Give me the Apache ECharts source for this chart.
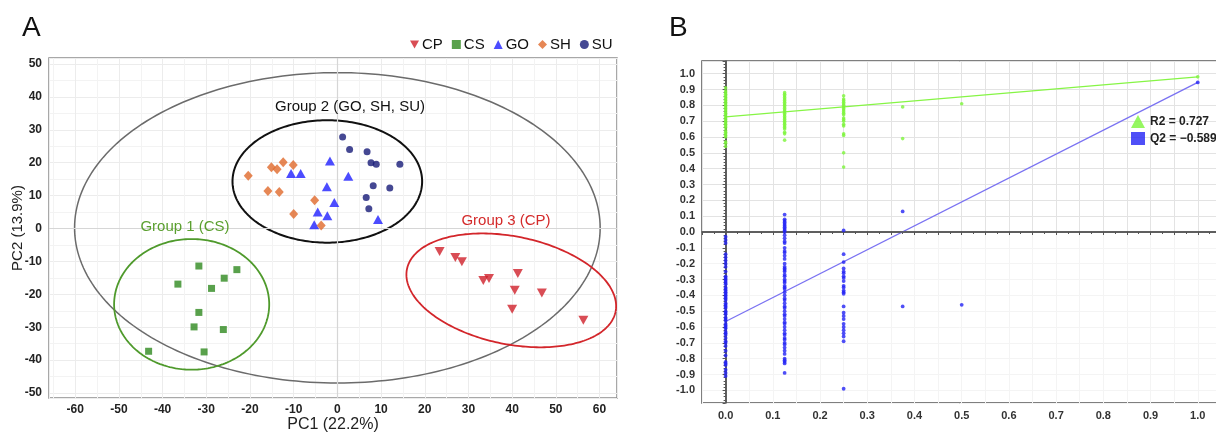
<!DOCTYPE html>
<html><head><meta charset="utf-8">
<script src="https://cdn.jsdelivr.net/npm/echarts@6/dist/echarts.min.js"></script>
<style>html,body{margin:0;padding:0;background:#fff}#c{width:1216px;height:433px}</style>
</head><body><div id="c"></div>
<script>
// ---------- Panel A: PCA scores ----------
const groupNames = ['CP', 'CS', 'GO', 'SH', 'SU'];
const cpPoints = [[23.4,-7.0],[27.0,-8.8],[28.5,-10.1],[33.4,-15.8],[34.7,-15.2],[41.3,-13.7],[40.6,-18.8],[46.8,-19.6],[40.0,-24.5],[56.3,-27.9]];
const csPoints = [[-31.7,-11.4],[-23.0,-12.5],[-36.5,-16.9],[-25.9,-15.1],[-28.8,-18.2],[-31.7,-25.5],[-32.8,-29.9],[-26.1,-30.7],[-43.2,-37.3],[-30.5,-37.5]];
const goPoints = [[-1.7,20.5],[-10.6,16.7],[-8.4,16.7],[2.5,15.9],[-2.4,12.7],[-0.7,7.9],[-4.5,5.0],[-2.3,3.9],[-5.3,1.1],[9.3,2.7]];
const shPoints = [[-20.4,16.0],[-15.1,18.6],[-13.8,18.0],[-12.4,20.1],[-10.1,19.3],[-15.9,11.4],[-13.3,11.1],[-5.2,8.6],[-10.0,4.4],[-3.7,0.9]];
const suPoints = [[1.2,27.8],[2.8,24.0],[6.8,23.3],[7.7,20.0],[8.9,19.5],[14.3,19.5],[8.2,13.0],[12.0,12.3],[6.6,9.4],[7.2,6.0]];
const groupLabels = ['Group 2 (GO, SH, SU)', 'Group 1 (CS)', 'Group 3 (CP)'];
// ellipses: centre and two conjugate semi-axis vectors (data units)
const ellipseCenter = [[0,0.2],[-2.3,14.3],[-33.35,-23.05],[39.8,-18.8]];
const ellipseU = [[60.15,0],[21.7,0],[17.75,0],[23.37,-8.44]];
const ellipseV = [[0,47.15],[0,18.6],[0,19.85],[5.45,15.1]];
const axisNameA = ['PC1 (22.2%)', 'PC2 (13.9%)'];

// ---------- Panel B: permutation test ----------
const permX = [0, 0.125, 0.25, 0.375, 0.5, 1.0];
const r2Cols = [
  [0.91,0.89,0.88,0.87,0.86,0.85,0.84,0.83,0.82,0.81,0.80,0.79,0.78,0.77,0.76,0.75,0.74,0.73,0.72,0.71,0.70,0.69,0.68,0.67,0.66,0.64,0.63,0.62,0.61,0.60,0.57,0.56,0.54],
  [0.88,0.87,0.86,0.85,0.84,0.83,0.82,0.81,0.80,0.79,0.78,0.77,0.76,0.75,0.74,0.73,0.72,0.71,0.70,0.69,0.68,0.67,0.66,0.65,0.63,0.62,0.58],
  [0.86,0.84,0.83,0.82,0.81,0.80,0.79,0.78,0.77,0.76,0.75,0.74,0.72,0.71,0.70,0.68,0.67,0.62,0.61,0.50,0.41],
  [0.79,0.59],
  [0.81],
  [0.98]
];
const q2Cols = [
  [-0.03,-0.05,-0.07,-0.14,-0.16,-0.18,-0.20,-0.22,-0.25,-0.28,-0.29,-0.30,-0.31,-0.32,-0.33,-0.35,-0.36,-0.37,-0.38,-0.39,-0.40,-0.41,-0.42,-0.43,-0.45,-0.46,-0.47,-0.48,-0.50,-0.51,-0.52,-0.54,-0.55,-0.56,-0.58,-0.59,-0.60,-0.61,-0.63,-0.64,-0.65,-0.67,-0.69,-0.70,-0.72,-0.75,-0.78,-0.82,-0.83,-0.84,-0.87,-0.89,-0.91],
  [0.11,0.08,0.07,0.06,0.05,0.04,0.03,0.02,0.01,0.00,-0.02,-0.04,-0.06,-0.07,-0.10,-0.12,-0.13,-0.15,-0.17,-0.20,-0.22,-0.23,-0.24,-0.25,-0.27,-0.28,-0.30,-0.31,-0.32,-0.34,-0.35,-0.36,-0.38,-0.40,-0.42,-0.43,-0.45,-0.47,-0.48,-0.50,-0.52,-0.53,-0.55,-0.57,-0.58,-0.60,-0.62,-0.64,-0.65,-0.67,-0.68,-0.70,-0.71,-0.73,-0.75,-0.77,-0.80,-0.81,-0.82,-0.83,-0.89],
  [0.01,-0.14,-0.19,-0.23,-0.25,-0.26,-0.28,-0.29,-0.31,-0.34,-0.35,-0.37,-0.38,-0.39,-0.47,-0.51,-0.53,-0.55,-0.58,-0.60,-0.62,-0.64,-0.66,-0.69,-0.99],
  [0.13,-0.47],
  [-0.46],
  [0.945]
];
const r2Line = [[0, 0.727], [1, 0.98]];
const q2Line = [[0, -0.565], [1, 0.945]];
const legendB = ['R2 = 0.727', 'Q2 = \u22120.589'];

// ---------- build ----------
const colsToPoints = cols => cols.flatMap((col, i) => col.map(v => [permX[i], v]));
const ellColors = ['#6b6b6b', '#111111', '#4f9a2c', '#d3262b'];
const ellWidths = [1.5, 2, 1.8, 1.8];
const fontA = 'Liberation Sans, Arial, sans-serif';

const chart = echarts.init(document.getElementById('c'), null, {renderer: 'canvas'});
const isMult = (v, step) => Math.abs(v / step - Math.round(v / step)) < 1e-6;

const bAxisX = (gi, show, splitColor) => ({
  type: 'value', gridIndex: gi, min: -0.05, max: 1.045, interval: 0.05,
  axisLine: {show: show, lineStyle: {color: '#555', width: 1.5}},
  axisTick: {show: show, length: 3, lineStyle: {color: '#555'}},
  minorTick: {show: show, splitNumber: 2, length: 2, lineStyle: {color: '#555'}},
  axisLabel: {show: show, margin: 7, fontFamily: fontA, fontWeight: 'bold', fontSize: 11, color: '#333',
    formatter: v => (isMult(v, 0.1) && v > -0.01) ? v.toFixed(1) : ''},
  splitLine: {show: !!splitColor, lineStyle: {color: splitColor || '#eee', width: 1}}
});

const groupText = (txt, x, y, color) => ({
  type: 'text', x: x, y: y, z: 100, silent: true,
  style: {text: txt, fontFamily: fontA, fontSize: 15, fill: color, stroke: null, lineWidth: 0,
    align: 'center', verticalAlign: 'middle'}
});

const option = {
  animation: false,
  backgroundColor: '#fff',
  grid: [
    {left: 49, top: 58, width: 568, height: 340, show: true, borderColor: '#8c8c8c', borderWidth: 1.5, backgroundColor: 'transparent', outerBoundsMode: 'none'},
    {left: 702, top: 61, width: 517, height: 342, show: true, borderColor: '#555', borderWidth: 1.5, outerBoundsMode: 'none'},
    {left: 702, top: 61, width: 517, height: 171, outerBoundsMode: 'none'},
    {left: 702, top: 232, width: 517, height: 171, outerBoundsMode: 'none'}
  ],
  xAxis: [
    {type: 'value', gridIndex: 0, min: -66, max: 64, splitNumber: 13,
      name: axisNameA[0], nameLocation: 'middle', nameGap: 19, nameMoveOverlap: false,
      nameTextStyle: {fontFamily: fontA, fontSize: 16, color: '#222', verticalAlign: 'top'},
      axisLine: {show: false}, axisTick: {show: false},
      axisLabel: {margin: 6, fontFamily: fontA, fontWeight: 'bold', fontSize: 12, color: '#222',
        formatter: v => isMult(v, 10) ? String(Math.round(v)) : ''},
      splitLine: {show: true, lineStyle: {color: '#ececec'}},
      minorTick: {show: false, splitNumber: 2},
      minorSplitLine: {show: true, lineStyle: {color: '#f3f3f3'}}},
    bAxisX(1, true, null),
    bAxisX(2, false, '#e3e3e3'),
    bAxisX(3, false, '#f4f4f4')
  ],
  yAxis: [
    {type: 'value', gridIndex: 0, min: -51.5, max: 51.8, splitNumber: 10,
      name: axisNameA[1], nameLocation: 'middle', nameGap: 24, nameRotate: 90, nameMoveOverlap: false,
      nameTextStyle: {fontFamily: fontA, fontSize: 15, color: '#222'},
      axisLine: {show: false}, axisTick: {show: false},
      axisLabel: {margin: 7, fontFamily: fontA, fontWeight: 'bold', fontSize: 12, color: '#222',
        formatter: v => isMult(v, 10) ? String(Math.round(v)) : ''},
      splitLine: {show: true, lineStyle: {color: '#ececec'}},
      minorTick: {show: false, splitNumber: 2},
      minorSplitLine: {show: true, lineStyle: {color: '#f3f3f3'}}},
    {type: 'value', gridIndex: 1, min: -1.08, max: 1.08, splitNumber: 20,
      axisLine: {show: true, lineStyle: {color: '#555', width: 1.5}},
      axisTick: {show: true, length: 3, lineStyle: {color: '#555'}},
      minorTick: {show: true, splitNumber: 5, length: 2, lineStyle: {color: '#555'}},
      axisLabel: {margin: 7, fontFamily: fontA, fontWeight: 'bold', fontSize: 11, color: '#333',
        formatter: v => isMult(v, 0.1) ? (Math.abs(v) < 1e-9 ? '0.0' : v.toFixed(1)) : ''},
      splitLine: {show: false}},
    {type: 'value', gridIndex: 2, min: 0, max: 1.08, interval: 0.1,
      axisLine: {show: false}, axisTick: {show: false}, axisLabel: {show: false},
      splitLine: {show: true, lineStyle: {color: '#e3e3e3'}}},
    {type: 'value', gridIndex: 3, min: 0, max: 1.08, interval: 0.1, inverse: true,
      axisLine: {show: false}, axisTick: {show: false}, axisLabel: {show: false},
      splitLine: {show: true, lineStyle: {color: '#f4f4f4'}}}
  ],
  legend: [
    {left: 410, top: 37, itemWidth: 9, itemHeight: 9, itemGap: 9, padding: 0,
      textStyle: {fontFamily: fontA, fontSize: 15, color: '#111', padding: [0, 0, 0, -2]},
      data: [
        {name: 'CP', icon: 'path://M0,0 L10,0 L5,9 Z'},
        {name: 'CS', icon: 'rect'},
        {name: 'GO', icon: 'triangle'},
        {name: 'SH', icon: 'diamond'},
        {name: 'SU', icon: 'circle'}
      ]},
    {left: 1131, top: 115, orient: 'vertical', itemWidth: 14, itemHeight: 13, itemGap: 4, padding: 0,
      textStyle: {fontFamily: fontA, fontSize: 12, fontWeight: 'bold', color: '#222'},
      data: [{name: legendB[0], icon: 'triangle'}, {name: legendB[1], icon: 'rect'}]}
  ],
  graphic: [
    {type: 'text', left: 22, top: 14, z: 100, style: {text: 'A', fontFamily: fontA, fontSize: 28, fill: '#111'}},
    {type: 'text', left: 669, top: 14, z: 100, style: {text: 'B', fontFamily: fontA, fontSize: 28, fill: '#111'}},
    groupText(groupLabels[0], 350, 107, '#111'),
    groupText(groupLabels[1], 185, 227, '#5a9f2e'),
    groupText(groupLabels[2], 506, 221, '#d42a2a')
  ],
  series: [
    {type: 'custom', xAxisIndex: 0, yAxisIndex: 0, clip: false, silent: true, z: 3,
      data: ellipseCenter,
      renderItem: (params, api) => {
        const i = params.dataIndex;
        const c = ellipseCenter[i], u = ellipseU[i], v = ellipseV[i];
        const p0 = api.coord(c);
        const pu = api.coord([c[0] + u[0], c[1] + u[1]]);
        const pv = api.coord([c[0] + v[0], c[1] + v[1]]);
        const du = [pu[0] - p0[0], pu[1] - p0[1]], dv = [pv[0] - p0[0], pv[1] - p0[1]];
        const pts = [];
        for (let k = 0; k < 240; k++) {
          const t = k / 240 * 2 * Math.PI;
          pts.push([p0[0] + du[0] * Math.cos(t) + dv[0] * Math.sin(t), p0[1] + du[1] * Math.cos(t) + dv[1] * Math.sin(t)]);
        }
        return {type: 'polygon', shape: {points: pts}, style: {fill: 'none', stroke: ellColors[i], lineWidth: ellWidths[i]}};
      },
      markLine: {silent: true, symbol: 'none', label: {show: false},
        lineStyle: {color: '#d6d6d6', width: 1.2, type: 'solid'},
        data: [{xAxis: 0}, {yAxis: 0}]}},
    {name: groupNames[0], type: 'scatter', xAxisIndex: 0, yAxisIndex: 0, z: 5, data: cpPoints,
      symbol: 'path://M0,0 L10,0 L5,9 Z', symbolSize: [10, 9], itemStyle: {color: '#d0202a'}},
    {name: groupNames[1], type: 'scatter', xAxisIndex: 0, yAxisIndex: 0, z: 5, data: csPoints,
      symbol: 'rect', symbolSize: 7, itemStyle: {color: '#2f8a1f'}},
    {name: groupNames[2], type: 'scatter', xAxisIndex: 0, yAxisIndex: 0, z: 5, data: goPoints,
      symbol: 'triangle', symbolSize: [10, 9], itemStyle: {color: '#1f1fff'}},
    {name: groupNames[3], type: 'scatter', xAxisIndex: 0, yAxisIndex: 0, z: 5, data: shPoints,
      symbol: 'diamond', symbolSize: [9, 10], itemStyle: {color: '#e0692a'}},
    {name: groupNames[4], type: 'scatter', xAxisIndex: 0, yAxisIndex: 0, z: 5, data: suPoints,
      symbol: 'circle', symbolSize: 7, itemStyle: {color: '#171a78'}},

    {type: 'line', xAxisIndex: 1, yAxisIndex: 1, data: r2Line, symbol: 'none', z: 4,
      lineStyle: {color: '#86f545', width: 1.3}, silent: true,
      markLine: {silent: true, symbol: 'none', label: {show: false},
        lineStyle: {color: '#555', width: 1.5, type: 'solid'},
        data: [{xAxis: 0}, {yAxis: 0}]}},
    {type: 'line', xAxisIndex: 1, yAxisIndex: 1, data: q2Line, symbol: 'none', z: 4,
      lineStyle: {color: '#7a72f2', width: 1.3}, silent: true},
    {name: legendB[0], type: 'scatter', xAxisIndex: 1, yAxisIndex: 1, z: 5, data: colsToPoints(r2Cols),
      symbol: 'circle', symbolSize: 3.6, itemStyle: {color: '#7cf53a'}},
    {name: legendB[1], type: 'scatter', xAxisIndex: 1, yAxisIndex: 1, z: 5, data: colsToPoints(q2Cols),
      symbol: 'circle', symbolSize: 3.8, itemStyle: {color: '#2323f5'}}
  ]
};
chart.setOption(option);
</script></body></html>
